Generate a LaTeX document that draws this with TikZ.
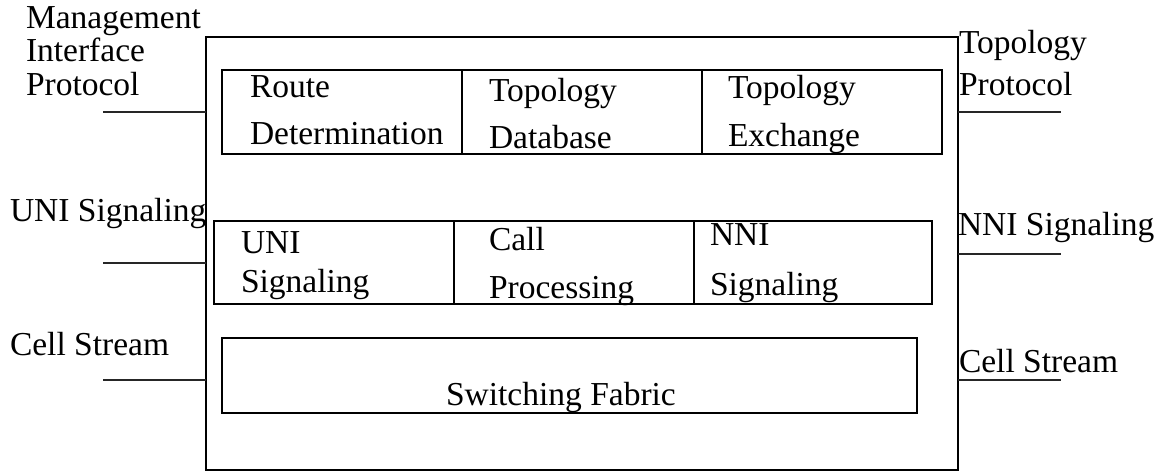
\documentclass[tikz,border=0pt]{standalone}
\usepackage{fontspec}
\setmainfont{Liberation Serif}
\begin{document}
\begin{tikzpicture}[x=1pt,y=-1pt,
  box/.style={draw=black,line width=1.1pt,inner sep=0pt,outer sep=0pt,anchor=north west},
  lbl/.style={inner sep=0pt,outer sep=0pt,anchor=base west,font=\fontsize{33.5}{40}\selectfont},
  wire/.style={draw=black!85,line width=1.1pt}]
\useasboundingbox (0,0) rectangle (1168,472);
% outer switch box
\node[box,minimum width=752pt,minimum height=433pt] (outer) at (206,37) {};
% top row
\node[box,minimum width=240pt,minimum height=84pt] (rd) at (222,70) {};
\node[box,minimum width=240pt,minimum height=84pt] (tdb) at (462,70) {};
\node[box,minimum width=240pt,minimum height=84pt] (tex) at (702,70) {};
% middle row
\node[box,minimum width=240pt,minimum height=83pt] (uni) at (214,221) {};
\node[box,minimum width=240pt,minimum height=83pt] (cp) at (454,221) {};
\node[box,minimum width=238pt,minimum height=83pt] (nni) at (694,221) {};
% bottom
\node[box,minimum width=695pt,minimum height=75pt] (sf) at (222,338) {};
% box texts
\node[lbl] (t1) at (250,97) {Route};
\node[lbl] (t2) at (250,144) {Determination};
\node[lbl] (t3) at (489,101) {Topology};
\node[lbl] (t4) at (489,148) {Database};
\node[lbl] (t5) at (728,98) {Topology};
\node[lbl] (t6) at (728,146) {Exchange};
\node[lbl] (t7) at (241,253) {UNI};
\node[lbl] (t8) at (241,292) {Signaling};
\node[lbl] (t9) at (489,250) {Call};
\node[lbl] (t10) at (489,298) {Processing};
\node[lbl] (t11) at (710,245) {NNI};
\node[lbl] (t12) at (710,295) {Signaling};
\node[lbl] (t13) at (446,405) {Switching Fabric};
% outside labels
\node[lbl] (l1) at (26,28) {Management};
\node[lbl] (l2) at (26,61) {Interface};
\node[lbl] (l3) at (26,95) {Protocol};
\node[lbl] (l4) at (10,221) {UNI Signaling};
\node[lbl] (l5) at (10,355) {Cell Stream};
\node[lbl] (r1) at (959,53) {Topology};
\node[lbl] (r2) at (959,95) {Protocol};
\node[lbl] (r3) at (958,235) {NNI Signaling};
\node[lbl] (r4) at (959,372) {Cell Stream};
% interface lines
\coordinate (a1) at (103,112);
\coordinate (a2) at (103,263);
\coordinate (a3) at (103,380);
\coordinate (b1) at (1061,112);
\coordinate (b2) at (1061,254);
\coordinate (b3) at (1061,380);
\draw[wire] (a1) -- (a1 -| outer.west);
\draw[wire] (a2) -- (a2 -| outer.west);
\draw[wire] (a3) -- (a3 -| outer.west);
\draw[wire] (b1 -| outer.east) -- (b1);
\draw[wire] (b2 -| outer.east) -- (b2);
\draw[wire] (b3 -| outer.east) -- (b3);
\end{tikzpicture}
\end{document}
